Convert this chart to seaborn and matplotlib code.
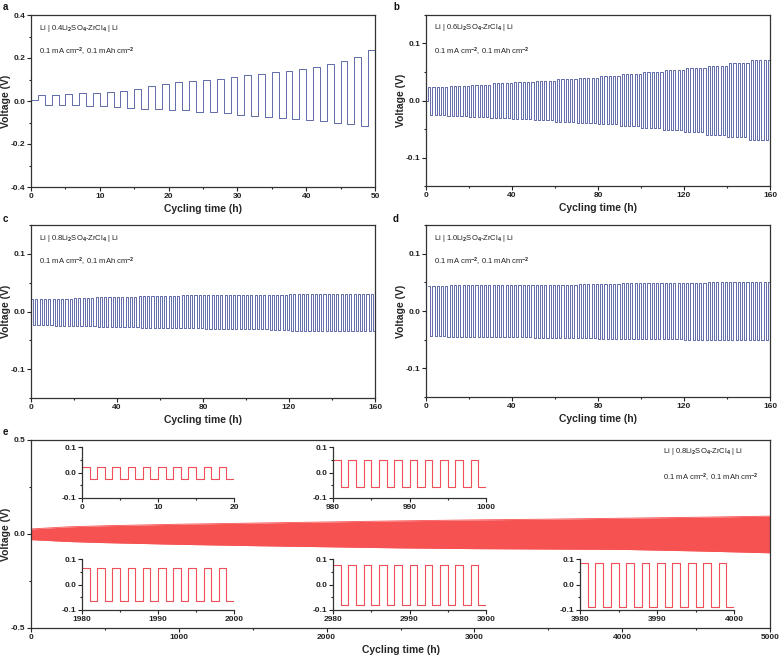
import numpy as np
import matplotlib
matplotlib.use("Agg")
import matplotlib.pyplot as plt
from matplotlib.ticker import AutoMinorLocator, MultipleLocator
import seaborn as sns

# ---- data ----
# panel a: 0.4Li2SO4-ZrCl4, rest 0-1 h then 1 h halves
a_rest = 0.005
a_up = [0.026, 0.029, 0.033, 0.036, 0.039, 0.042, 0.048, 0.057, 0.071, 0.081,
        0.089, 0.093, 0.099, 0.102, 0.110, 0.121, 0.127, 0.136, 0.138, 0.147,
        0.158, 0.174, 0.186, 0.206, 0.236]
a_low = [-0.017, -0.019, -0.020, -0.023, -0.023, -0.028, -0.031, -0.036, -0.037, -0.040,
         -0.044, -0.050, -0.053, -0.058, -0.064, -0.071, -0.074, -0.079, -0.084, -0.090,
         -0.095, -0.101, -0.109, -0.118]

# panels b-d: plating/stripping voltage per 10 h block (0-10, 10-20, ... 150-160 h)
b_up = [0.023, 0.025, 0.028, 0.030, 0.033, 0.035, 0.038, 0.040,
        0.043, 0.047, 0.050, 0.054, 0.057, 0.061, 0.066, 0.071]
b_low = [-0.026, -0.027, -0.029, -0.031, -0.033, -0.035, -0.037, -0.039,
         -0.042, -0.045, -0.048, -0.052, -0.055, -0.060, -0.064, -0.069]
c_up = [0.021, 0.022, 0.024, 0.025, 0.026, 0.027, 0.027, 0.028,
        0.028, 0.028, 0.029, 0.029, 0.030, 0.030, 0.031, 0.031]
c_low = [-0.024, -0.025, -0.026, -0.027, -0.027, -0.028, -0.029, -0.029,
         -0.030, -0.031, -0.031, -0.032, -0.033, -0.033, -0.034, -0.034]
d_up = [0.044, 0.045, 0.045, 0.045, 0.046, 0.046, 0.046, 0.047,
        0.047, 0.048, 0.048, 0.049, 0.049, 0.050, 0.050, 0.051]
d_low = [-0.044, -0.045, -0.045, -0.046, -0.046, -0.047, -0.047, -0.047,
         -0.048, -0.048, -0.049, -0.049, -0.050, -0.050, -0.051, -0.051]

# panel e: long-term envelope of 0.8Li2SO4-ZrCl4 cell
e_time = [0, 250, 500, 1000, 1500, 2000, 2500, 3000, 3500, 4000, 4500, 5000]
e_up = [0.027, 0.038, 0.044, 0.052, 0.058, 0.064, 0.070, 0.075, 0.079, 0.084, 0.089, 0.095]
e_low = [-0.030, -0.040, -0.046, -0.055, -0.062, -0.068, -0.074, -0.078, -0.080, -0.082, -0.090, -0.100]

# panel e insets: 20 h windows
inset_start = [0, 980, 1980, 2980, 3980]
inset_up = [0.020, 0.050, 0.063, 0.075, 0.086]
inset_low = [-0.026, -0.055, -0.066, -0.079, -0.090]

labels = ["0.4", "0.6", "0.8", "1.0"]

BLUE = "#47539b"
RED = "#f75252"
RED_LINE = "#ee4f5a"


def steps(t0, levels, dur=1.0):
    edges = t0 + dur * np.arange(len(levels) + 1)
    x = np.repeat(edges, 2)[1:-1]
    y = np.repeat(np.asarray(levels, dtype=float), 2)
    return x, y


def block_levels(t0, t_end, ups, lows):
    lv = []
    k = 0
    t = t0
    while t < t_end:
        blk = min(int(t // 10), len(ups) - 1)
        lv.append(ups[blk] if k % 2 == 0 else lows[blk])
        k += 1
        t += 1
    return lv


sns.set_theme(style="ticks")
plt.rcParams["font.family"] = ["Liberation Sans", "DejaVu Sans"]
plt.rcParams["font.weight"] = "bold"
plt.rcParams["axes.labelweight"] = "bold"
plt.rcParams["axes.edgecolor"] = "#333333"
plt.rcParams["axes.linewidth"] = 0.9
plt.rcParams["mathtext.fontset"] = "custom"
plt.rcParams["mathtext.rm"] = "Liberation Sans"
plt.rcParams["mathtext.it"] = "Liberation Sans"
plt.rcParams["mathtext.bf"] = "Liberation Sans:bold"

W, H = 780, 657
fig = plt.figure(figsize=(W / 100, H / 100), dpi=100)


def rect(l, t, r, b):
    return [l / W, 1 - b / H, (r - l) / W, (b - t) / H]


def style(ax, size=6, inset=False):
    ax.tick_params(which="both", direction="out", top=False, right=False,
                   labelsize=size, colors="#222222", width=0.8, pad=1.2)
    ax.tick_params(which="major", length=3)
    ax.tick_params(which="minor", length=1.6)
    ax.xaxis.set_minor_locator(AutoMinorLocator(2))
    ax.yaxis.set_minor_locator(AutoMinorLocator(2))
    ax.grid(False)
    if inset:
        ax.spines["top"].set_visible(False)
        ax.spines["right"].set_visible(False)
        ax.patch.set_alpha(0)


def cell_text(ax, x, y1, y2, frac):
    ax.text(x, y1, "Li | " + frac + r"Li$_\mathrm{2}$SO$_\mathrm{4}$-ZrCl$_\mathrm{4}$ | Li",
            transform=ax.transAxes, fontsize=5.5, fontweight="normal", va="center", color="#222222")
    ax.text(x, y2, r"0.1 mA cm$^\mathrm{-2}$, 0.1 mAh cm$^\mathrm{-2}$", transform=ax.transAxes,
            fontsize=5.5, fontweight="normal", va="center", color="#222222")


def small_panel(ax, x, y, xmax, xstep, ylim, ystep, frac):
    sns.lineplot(x=x, y=y, sort=False, estimator=None, ax=ax, color=BLUE, lw=0.6)
    ax.set_xlim(0, xmax)
    ax.set_ylim(*ylim)
    ax.xaxis.set_major_locator(MultipleLocator(xstep))
    ax.yaxis.set_major_locator(MultipleLocator(ystep))
    ax.yaxis.set_major_formatter(plt.FuncFormatter(lambda v, _: f"{v:.1f}"))
    style(ax)
    ax.set_xlabel("Cycling time (h)", fontsize=7.5, labelpad=3)
    ax.set_ylabel("Voltage (V)", fontsize=7.5, labelpad=0)
    cell_text(ax, 0.024, 0.924, 0.785, frac)


# panel a
lv_a = [a_rest]
for i in range(len(a_up)):
    lv_a.append(a_up[i])
    if i < len(a_low):
        lv_a.append(a_low[i])
xa, ya = steps(0, lv_a)
ax_a = fig.add_axes(rect(31, 15, 375, 187))
small_panel(ax_a, xa, ya, 50, 10, (-0.4, 0.4), 0.2, labels[0])

# panel b
xb, yb = steps(0, [0.0] + block_levels(1, 160, b_up, b_low))
ax_b = fig.add_axes(rect(426, 15, 770, 186))
small_panel(ax_b, xb, yb, 160, 40, (-0.15, 0.15), 0.1, labels[1])

# panel c
xc, yc = steps(0, block_levels(0, 160, c_up, c_low))
ax_c = fig.add_axes(rect(31, 225, 375, 398))
small_panel(ax_c, xc, yc, 160, 40, (-0.15, 0.15), 0.1, labels[2])

# panel d
xd, yd = steps(1, block_levels(1, 160, d_up, d_low))
ax_d = fig.add_axes(rect(426, 225, 770, 397))
small_panel(ax_d, xd, yd, 160, 40, (-0.15, 0.15), 0.1, labels[3])

# panel e
ax_e = fig.add_axes(rect(31, 440, 770, 628))
ax_e.fill_between(e_time, e_low, e_up, color=RED, lw=0)
sns.lineplot(x=e_time, y=e_up, sort=False, estimator=None, ax=ax_e, color=RED, lw=0.6)
sns.lineplot(x=e_time, y=e_low, sort=False, estimator=None, ax=ax_e, color=RED, lw=0.6)
ax_e.set_xlim(0, 5000)
ax_e.set_ylim(-0.5, 0.5)
ax_e.xaxis.set_major_locator(MultipleLocator(1000))
ax_e.yaxis.set_major_locator(MultipleLocator(0.5))
ax_e.yaxis.set_major_formatter(plt.FuncFormatter(lambda v, _: f"{v:.1f}"))
style(ax_e)
ax_e.set_xlabel("Cycling time (h)", fontsize=7.5, labelpad=3)
ax_e.set_ylabel("Voltage (V)", fontsize=7.5, labelpad=0)
cell_text(ax_e, 0.855, 0.941, 0.80, "0.8")

inset_rects = [(82, 447, 234, 498), (333, 447, 486, 498), (82, 559, 234, 610),
               (333, 559, 486, 610), (580, 559, 734, 610)]
for t0, up, low, r in zip(inset_start, inset_up, inset_low, inset_rects):
    axi = fig.add_axes(rect(*r))
    xi, yi = steps(t0, [up if k % 2 == 0 else low for k in range(20)])
    sns.lineplot(x=xi, y=yi, sort=False, estimator=None, ax=axi, color=RED_LINE, lw=0.8)
    axi.set_xlim(t0, t0 + 20)
    axi.set_ylim(-0.1, 0.1)
    axi.xaxis.set_major_locator(MultipleLocator(10))
    axi.yaxis.set_major_locator(MultipleLocator(0.1))
    axi.yaxis.set_major_formatter(plt.FuncFormatter(lambda v, _: f"{v:.1f}"))
    style(axi, size=6, inset=True)
    axi.set_xlabel("")
    axi.set_ylabel("")

# panel letters
for letter, (px, py) in zip("abcde", [(3, 7), (393, 7), (3, 219), (393, 219), (3, 432)]):
    fig.text(px / W, 1 - py / H, letter, fontsize=7, fontweight="bold", va="center", color="#111111")

fig.savefig("out.png", dpi=100)
